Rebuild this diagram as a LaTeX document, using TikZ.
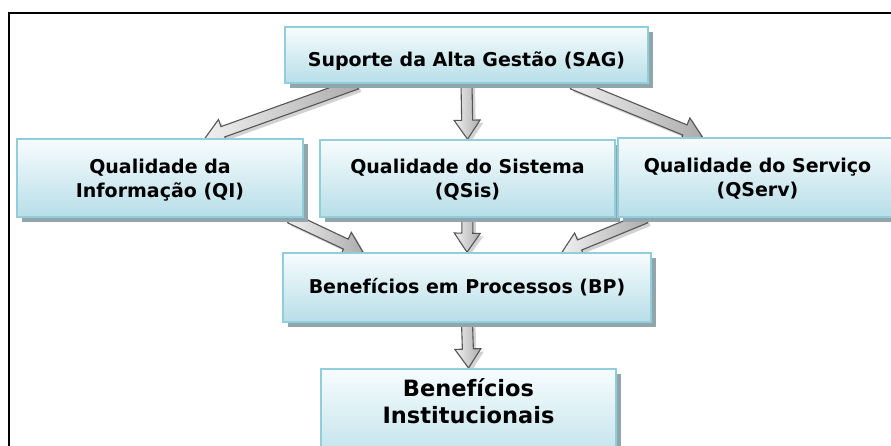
\documentclass[tikz,border=0pt]{standalone}
\usepackage{fontspec}
\setmainfont{DejaVu Sans}
\usetikzlibrary{calc,shadows}
\definecolor{boxborder}{HTML}{92CDDC}
\definecolor{boxtop}{HTML}{F7FCFD}
\definecolor{boxbot}{HTML}{B7DEE8}
\definecolor{boxshadow}{HTML}{90A6AC}
\definecolor{arrowline}{HTML}{555555}
\pgfdeclarelayer{bg}
\pgfsetlayers{bg,main}
\tikzset{
  flowbox/.style={draw=boxborder, line width=1.6pt, top color=boxtop, bottom color=boxbot,
    inner sep=0pt, align=center, font=\bfseries\fontsize{19}{24}\selectfont,
    drop shadow={shadow xshift=5pt, shadow yshift=-5pt, fill=boxshadow, opacity=1}},
  bigtext/.style={font=\bfseries\fontsize{22.5}{27}\selectfont},
  blockarrowstyle/.style={draw=arrowline, line width=1.1pt, left color=gray!12, right color=gray!65},
  blockarrowshadow/.style={fill=gray!35, draw=none},
}
\newcommand\blockarrow[2]{%
  \coordinate (ba-p) at ($(#2)!19pt!(#1)$);
  \fill[blockarrowshadow, transform canvas={shift={(3pt,-3pt)}}]
    ($(#1)!5.5pt!90:(#2)$) -- ($(ba-p)!5.5pt!90:(#2)$) -- ($(ba-p)!13pt!90:(#2)$) -- (#2)
    -- ($(ba-p)!13pt!-90:(#2)$) -- ($(ba-p)!5.5pt!-90:(#2)$) -- ($(#1)!5.5pt!-90:(#2)$) -- cycle;
  \draw[blockarrowstyle, line join=miter]
    ($(#1)!5.5pt!90:(#2)$) -- ($(ba-p)!5.5pt!90:(#2)$) -- ($(ba-p)!13pt!90:(#2)$) -- (#2)
    -- ($(ba-p)!13pt!-90:(#2)$) -- ($(ba-p)!5.5pt!-90:(#2)$) -- ($(#1)!5.5pt!-90:(#2)$) -- cycle;
}
\begin{document}
\begin{tikzpicture}[x=1pt,y=-1pt]
\useasboundingbox (0,0) rectangle (891,445);
\clip (0,0) rectangle (891,445);
\draw[line width=1.6pt] (9,460) -- (9,13) -- (900,13);

\node[flowbox, minimum width=363pt, minimum height=56pt, text height=24pt, text depth=2pt] (sag) at (466.5,55) {Suporte da Alta Gestão (SAG)};
\node[flowbox, minimum width=286pt, minimum height=78pt, text height=42pt, text depth=4pt] (qi) at (160,178) {Qualidade da\\Informação (QI)};
\node[flowbox, minimum width=295pt, minimum height=77pt, text height=42pt, text depth=4pt] (qsis) at (467.5,178.5) {Qualidade do Sistema\\(QSis)};
\node[flowbox, minimum width=279pt, minimum height=79pt, text height=42pt, text depth=4pt] (qserv) at (757.5,177.5) {Qualidade do Serviço\\(QServ)};
\node[flowbox, minimum width=368pt, minimum height=69pt] (bp) at (467,287.5) {Benefícios em Processos (BP)};
\node[flowbox, bigtext, minimum width=295pt, text height=55pt, text depth=50pt, anchor=north] (bi) at (468.5,368) {Benefícios\\Institucionais};

\coordinate (s1) at ($(sag.south)+(-110,0)$);
\coordinate (e1) at ($(qi.north)+(45,0)$);
\coordinate (s3) at ($(sag.south)+(106,0)$);
\coordinate (e3) at ($(qserv.north)+(-55,0)$);
\coordinate (s4) at ($(qi.south)+(130,0)$);
\coordinate (e4) at ($(bp.north)+(-104,0)$);
\coordinate (s6) at ($(qserv.south)+(-112,0)$);
\coordinate (e6) at ($(bp.north)+(95,0)$);

\begin{pgfonlayer}{bg}
\blockarrow{s1}{e1}
\blockarrow{sag.south}{qsis.north}
\blockarrow{s3}{e3}
\blockarrow{s4}{e4}
\blockarrow{qsis.south}{bp.north}
\blockarrow{s6}{e6}
\blockarrow{bp.south}{bi.north}
\end{pgfonlayer}
\end{tikzpicture}
\end{document}
